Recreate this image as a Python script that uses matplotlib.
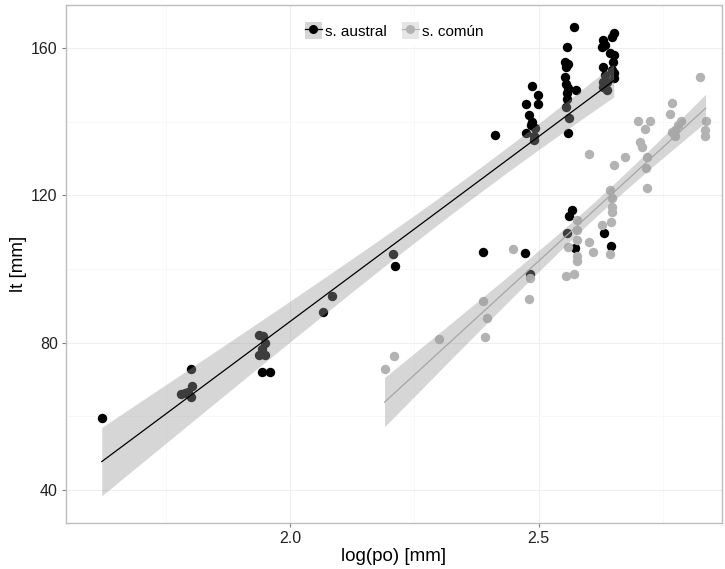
import numpy as np
import matplotlib
matplotlib.use("Agg")
import matplotlib.pyplot as plt
from matplotlib.lines import Line2D
from matplotlib.patches import Patch

plt.rcParams['font.family'] = ['Liberation Sans', 'DejaVu Sans']

# s. austral (black)
austral_x = [1.621, 1.780, 1.789, 1.800, 1.802, 1.794, 1.801,
             1.938, 1.946, 1.950, 1.938, 1.950, 1.944, 1.943, 1.960,
             2.066, 2.085, 2.206, 2.211, 2.389, 2.473, 2.482,
             2.567, 2.562, 2.557, 2.573, 2.632, 2.645,
             2.572, 2.557, 2.553, 2.560, 2.555, 2.553, 2.555, 2.560, 2.575, 2.558,
             2.557, 2.555, 2.562, 2.559,
             2.486, 2.498, 2.475, 2.498, 2.480, 2.486, 2.484, 2.493, 2.475, 2.490,
             2.490, 2.412,
             2.651, 2.647, 2.630, 2.634, 2.627, 2.644, 2.651, 2.649, 2.630, 2.647,
             2.651, 2.634, 2.651, 2.630, 2.637, 2.630, 2.637]
austral_y = [59.6, 66.1, 66.3, 72.8, 68.2, 66.7, 65.3,
             82.1, 81.8, 79.8, 76.7, 76.7, 78.3, 72.1, 72.1,
             88.3, 92.7, 104.0, 100.8, 104.7, 104.3, 98.6,
             116.0, 114.4, 109.7, 105.8, 109.9, 106.3,
             165.6, 160.2, 156.3, 155.7, 154.9, 152.2, 150.2, 149.1, 148.6, 147.9,
             146.1, 144.1, 140.9, 136.9,
             149.7, 147.2, 144.8, 144.8, 141.8, 140.0, 139.1, 138.2, 136.9, 136.1,
             135.0, 136.4,
             164.2, 163.1, 162.2, 160.8, 160.2, 158.6, 158.1, 156.3, 154.8, 154.0,
             153.1, 152.7, 151.8, 150.9, 150.9, 149.5, 148.6]

# s. común (grey)
comun_x = [2.190, 2.210, 2.299, 2.393, 2.396, 2.389, 2.481, 2.482, 2.449,
           2.555, 2.571, 2.577, 2.577, 2.560, 2.602, 2.610, 2.643,
           2.577, 2.577, 2.577, 2.628, 2.645, 2.643, 2.648, 2.648, 2.648,
           2.602, 2.651, 2.825, 2.768, 2.765, 2.787, 2.781, 2.775, 2.768, 2.775,
           2.836, 2.834, 2.834, 2.700, 2.724, 2.714, 2.703, 2.708, 2.673, 2.719,
           2.716, 2.719]
comun_y = [72.9, 76.4, 81.0, 81.4, 86.8, 91.3, 91.8, 97.6, 105.3,
           98.2, 98.6, 103.4, 102.2, 106.1, 107.4, 104.7, 104.1,
           113.3, 110.6, 107.9, 112.0, 112.8, 121.5, 119.2, 116.9, 115.6,
           131.2, 128.2, 152.2, 145.2, 142.1, 140.2, 139.1, 137.7, 137.3, 136.0,
           140.2, 137.7, 136.1, 140.3, 140.3, 138.0, 134.6, 133.1, 130.3, 130.3,
           127.3, 121.9]

labels = ["s. austral", "s. común"]
colors = ["#000000", "#B3B3B3"]
line_colors = ["#000000", "#A6A6A6"]


def lm_band(x, y, tval):
    x = np.asarray(x)
    y = np.asarray(y)
    n = len(x)
    b, a = np.polyfit(x, y, 1)
    xs = np.linspace(x.min(), x.max(), 80)
    fit = a + b * xs
    resid = y - (a + b * x)
    s = np.sqrt(np.sum(resid ** 2) / (n - 2))
    se = s * np.sqrt(1 / n + (xs - x.mean()) ** 2 / np.sum((x - x.mean()) ** 2))
    return xs, fit, fit - tval * se, fit + tval * se


fig = plt.figure(figsize=(7.25, 5.69), dpi=100)
ax = fig.add_axes([66 / 725, 1 - 523 / 569, 656 / 725, 518 / 569])

ax.scatter(austral_x, austral_y, s=46, color=colors[0], linewidths=0, zorder=3)
ax.scatter(comun_x, comun_y, s=46, color=colors[1], linewidths=0, zorder=3)

# t quantiles for 95% (df ~ 69 and ~ 46)
for x, y, lc, t in [(austral_x, austral_y, line_colors[0], 1.995),
                    (comun_x, comun_y, line_colors[1], 2.013)]:
    xs, fit, lo, hi = lm_band(x, y, t)
    ax.fill_between(xs, lo, hi, color="#999999", alpha=0.4, linewidth=0, zorder=4)
    ax.plot(xs, fit, color=lc, linewidth=0.9, zorder=5)

ax.set_xlim(1.549, 2.869)
ax.set_ylim(31.0, 171.7)
ax.set_xticks([2.0, 2.5])
ax.set_xticklabels(["2.0", "2.5"])
ax.set_yticks([40, 80, 120, 160])
ax.set_xticks([1.75, 2.25, 2.75], minor=True)
ax.set_yticks([60, 100, 140], minor=True)
ax.grid(which="major", color="#EFEFEF", linewidth=0.8)
ax.grid(which="minor", color="#F7F7F7", linewidth=0.6)
ax.set_axisbelow(True)
for sp in ax.spines.values():
    sp.set_color("#BDBDBD")
    sp.set_linewidth(1.0)
ax.tick_params(which="major", length=3, color="#7F7F7F", labelsize=11.5,
               labelcolor="#222222", pad=3)
ax.tick_params(which="minor", length=0)

ax.set_xlabel("log(po) [mm]", fontsize=13.5, labelpad=1)
ax.set_ylabel("lt [mm]", fontsize=13.5, labelpad=3)

handles = [(Patch(facecolor="#D6D6D6", edgecolor="none"),
            Line2D([], [], color=line_colors[0], marker="o", markersize=6.5,
                   markeredgewidth=0, linewidth=0.9)),
           (Patch(facecolor="#E6E6E6", edgecolor="none"),
            Line2D([], [], color=colors[1], marker="o", markersize=6.5,
                   markeredgewidth=0, linewidth=0.9))]
ax.legend(handles, labels, loc="upper center", bbox_to_anchor=(0.5, 0.99),
          ncol=2, frameon=True, fancybox=False, edgecolor="none",
          facecolor="white", framealpha=1, fontsize=11,
          handlelength=1.1, handleheight=1.3, handletextpad=0.2,
          columnspacing=1.0, borderpad=0.3)

fig.savefig("out.png", dpi=100)
plt.close(fig)
